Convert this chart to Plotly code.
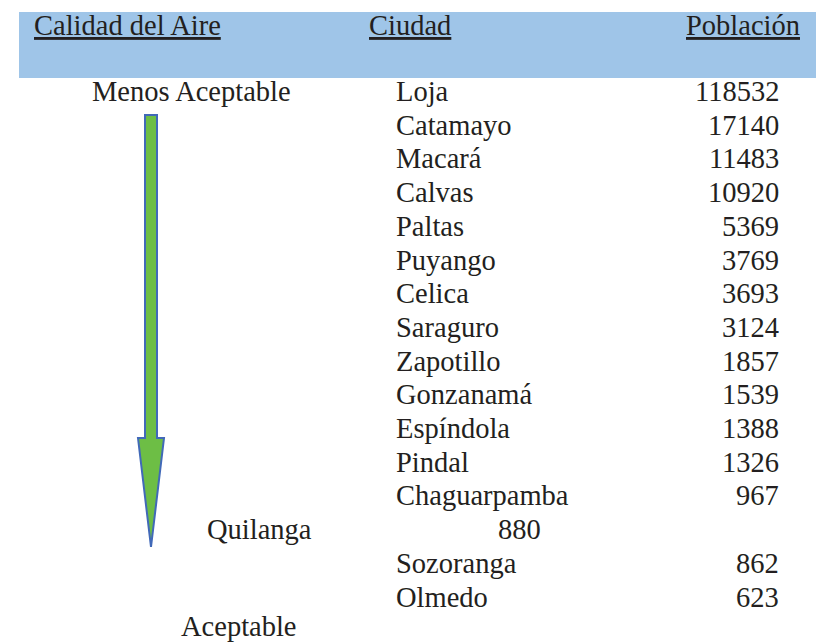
import plotly.graph_objects as go

# ---- data ----
encabezados = ["Calidad del Aire", "Ciudad", "Población"]
calidad = ["Menos Aceptable", "Aceptable"]
ciudades = ["Loja", "Catamayo", "Macará", "Calvas", "Paltas", "Puyango", "Celica",
            "Saraguro", "Zapotillo", "Gonzanamá", "Espíndola", "Pindal",
            "Chaguarpamba", "Quilanga", "Sozoranga", "Olmedo"]
poblacion = [118532, 17140, 11483, 10920, 5369, 3769, 3693, 3124, 1857, 1539,
             1388, 1326, 967, 880, 862, 623]

# ---- layout constants ----
W, H = 824, 642
ROW0, STEP = 83.5, 33.7
FONT = "Liberation Serif, Times New Roman, serif"
FS = 28.5
TXT = "#231f20"
CITY_X, POP_X = 387, 772
DISPLACED = 13          # row drawn shifted (as in the original)
DISP_CITY_RIGHT, DISP_POP_CENTER = 305, 511

fig = go.Figure()

# header band
fig.add_shape(type="rect", xref="x", yref="y", x0=11, x1=W, y0=4, y1=70,
              fillcolor="#9fc5e8", line=dict(width=0), layer="below")

# arrow
arrow = "M 137 107 L 149 107 L 149 430 L 156 430 L 143 539 L 130 430 L 137 430 Z"
fig.add_shape(type="path", xref="x", yref="y", path=arrow,
              fillcolor="#6dbe45", line=dict(color="#4169b8", width=2))

ann = []
def add(text, x, y, xanchor):
    ann.append(dict(text=text, x=x, y=y, xref="x", yref="y", xanchor=xanchor,
                    yanchor="middle", showarrow=False, borderpad=0,
                    font=dict(family=FONT, size=FS, color=TXT)))

# headers
HEAD_Y = 17
head_x = [25, 360, 677]
for t, hx in zip(encabezados, head_x):
    add("<u>" + t + "</u>", hx, HEAD_Y, "left")

# quality labels
add(calidad[0], 183, ROW0, "center")
add(calidad[1], 231, ROW0 + STEP * 16 - 4, "center")

# rows
for i, (c, p) in enumerate(zip(ciudades, poblacion)):
    y = ROW0 + STEP * i
    if i == DISPLACED:
        add(c, DISP_CITY_RIGHT, y, "right")
        add(str(p), DISP_POP_CENTER, y, "center")
    else:
        add(c, CITY_X, y, "left")
        add(str(p), POP_X, y, "right")

fig.update_layout(
    width=W, height=H, margin=dict(l=0, r=0, t=0, b=0),
    paper_bgcolor="white", plot_bgcolor="white",
    font=dict(family=FONT),
    xaxis=dict(range=[0, W], visible=False, fixedrange=True),
    yaxis=dict(range=[H, 0], visible=False, fixedrange=True),
    annotations=ann, showlegend=False,
)
fig.write_html("out.html")
